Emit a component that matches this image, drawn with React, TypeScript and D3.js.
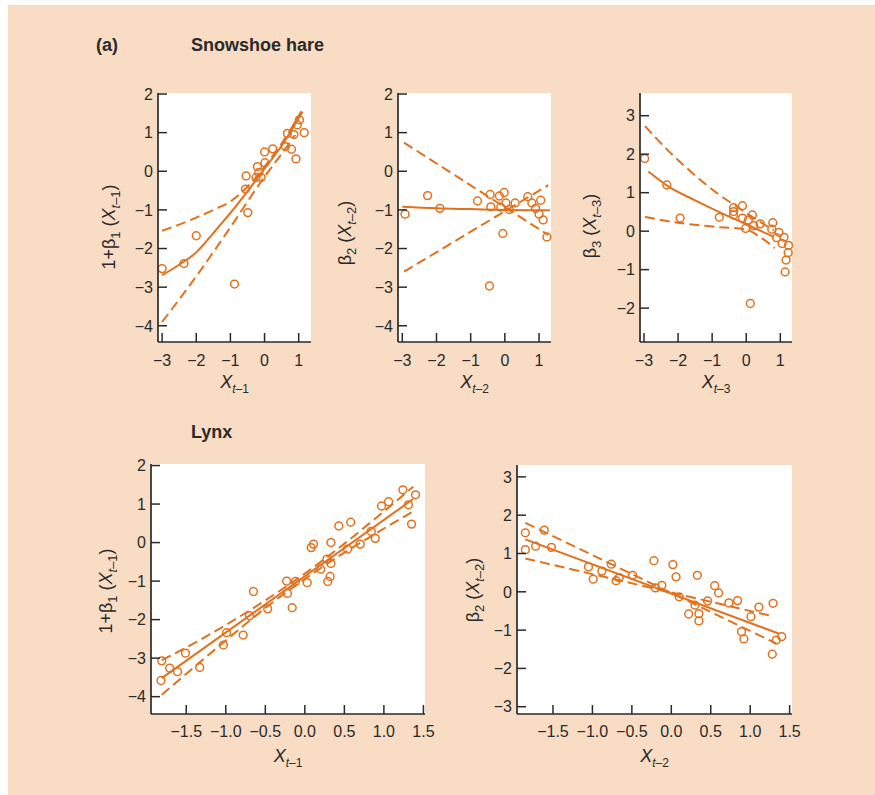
import React from 'react';
import * as d3 from 'd3';

type Pt = [number, number];

// ---------- DATA ----------
const hareTitle = 'Snowshoe hare';
const lynxTitle = 'Lynx';
const panelTag = '(a)';

const intTicks4 = [-3, -2, -1, 0, 1];
const yTicksA = [2, 1, 0, -1, -2, -3, -4];
const yTicksB = [3, 2, 1, 0, -1, -2];
const xTicksHalf = [-1.5, -1.0, -0.5, 0.0, 0.5, 1.0, 1.5];
const yTicksC = [3, 2, 1, 0, -1, -2, -3];

// Hare, 1+beta1 vs X(t-1)
const harePts1: Pt[] = [
  [-3.0, -2.52], [-2.36, -2.39], [-2.0, -1.67], [-0.88, -2.92], [-0.49, -1.07],
  [-0.56, -0.46], [-0.54, -0.12], [-0.21, 0.12], [-0.25, -0.16], [-0.17, -0.03],
  [-0.1, -0.16], [0.0, 0.5], [0.01, 0.22], [0.24, 0.58], [0.61, 0.64],
  [0.67, 0.98], [0.79, 0.57], [0.86, 0.95], [0.92, 0.32], [0.96, 1.2],
  [1.02, 1.33], [1.16, 1.0],
];
const hareFit1: Pt[] = [[-3, -2.69], [-2.5, -2.42], [-2, -2.1], [-1.5, -1.6], [-1, -1.08], [-0.5, -0.52], [0, 0.07], [0.5, 0.66], [1.11, 1.54]];
const hareUp1: Pt[] = [[-3, -1.54], [-2.5, -1.38], [-2, -1.2], [-1.5, -1.0], [-1, -0.78], [-0.5, -0.4], [0, 0.12], [0.5, 0.72], [1.11, 1.6]];
const hareLo1: Pt[] = [[-3, -3.9], [-2, -2.72], [-1, -1.45], [0, -0.14], [0.5, 0.45], [0.9, 0.95]];

// Hare, beta2 vs X(t-2)
const harePts2: Pt[] = [
  [-2.92, -1.11], [-2.26, -0.63], [-1.9, -0.96], [-0.8, -0.77], [-0.43, -0.6],
  [-0.41, -0.92], [-0.45, -2.97], [-0.16, -0.64], [-0.02, -0.55], [-0.12, -0.93],
  [0.03, -0.82], [-0.06, -1.61], [0.13, -0.99], [0.3, -0.82], [0.67, -0.66],
  [0.79, -0.82], [0.9, -0.96], [1.05, -0.75], [1.0, -1.11], [1.12, -1.26], [1.23, -1.7],
];
const hareFit2: Pt[] = [[-3, -0.92], [-2, -0.96], [-1, -0.98], [0, -1.0], [1.32, -1.01]];
const hareBandA2: Pt[] = [[-2.95, 0.74], [1.27, -1.65]];
const hareBandB2: Pt[] = [[-2.95, -2.6], [1.27, -0.36]];

// Hare, beta3 vs X(t-3)
const harePts3: Pt[] = [
  [-2.98, 1.89], [-2.33, 1.2], [-1.94, 0.34], [-0.79, 0.36], [-0.37, 0.61],
  [-0.37, 0.51], [-0.37, 0.42], [-0.11, 0.66], [-0.11, 0.34], [-0.02, 0.07],
  [0.06, 0.29], [0.18, 0.42], [0.22, 0.14], [0.41, 0.19], [0.12, -1.88],
  [0.78, 0.22], [0.75, 0.05], [0.89, -0.17], [0.96, -0.03], [1.05, -0.32],
  [1.11, -0.16], [1.24, -0.37], [1.23, -0.56], [1.17, -0.75], [1.14, -1.06],
];
const hareFit3: Pt[] = [[-2.87, 1.55], [-2.3, 1.17], [-1.5, 0.8], [-0.8, 0.5], [0, 0.18], [0.81, -0.15]];
const hareUp3: Pt[] = [[-2.97, 2.73], [-2.3, 2.1], [-1.5, 1.45], [-0.8, 0.95], [-0.28, 0.64], [0.3, 0.3], [0.81, 0.02]];
const hareLo3: Pt[] = [[-2.97, 0.37], [-2, 0.22], [-1, 0.12], [0, 0.04], [0.4, -0.15], [0.84, -0.44]];

// Lynx, 1+beta1 vs X(t-1)
const lynxPts1: Pt[] = [
  [-1.81, -3.07], [-1.82, -3.58], [-1.71, -3.26], [-1.61, -3.35], [-1.51, -2.87],
  [-1.33, -3.24], [-1.03, -2.66], [-0.99, -2.34], [-0.78, -2.4], [-0.7, -1.9],
  [-0.65, -1.27], [-0.47, -1.72], [-0.23, -1.0], [-0.22, -1.32], [-0.16, -1.69],
  [-0.12, -1.01], [0.03, -1.04], [0.08, -0.13], [0.11, -0.04], [0.2, -0.69],
  [0.28, -0.43], [0.29, -1.01], [0.32, -0.88], [0.33, -0.54], [0.33, 0.0],
  [0.43, 0.43], [0.54, -0.17], [0.58, 0.53], [0.7, -0.04], [0.84, 0.29],
  [0.89, 0.11], [0.97, 0.95], [1.06, 1.06], [1.24, 1.37], [1.31, 0.98],
  [1.35, 0.48], [1.4, 1.24],
];
const lynxFit1: Pt[] = [[-1.81, -3.52], [1.37, 1.13]];
const lynxUp1: Pt[] = [[-1.81, -3.05], [-1.37, -2.58], [-1, -2.14], [-0.5, -1.5], [-0.1, -0.95], [0.4, -0.19], [0.9, 0.64], [1.37, 1.45]];
const lynxLo1: Pt[] = [[-1.81, -3.95], [-1.37, -3.18], [-1, -2.54], [-0.5, -1.7], [-0.1, -1.09], [0.4, -0.39], [0.9, 0.24], [1.37, 0.81]];

// Lynx, beta2 vs X(t-2)
const lynxPts2: Pt[] = [
  [-1.85, 1.54], [-1.85, 1.1], [-1.72, 1.19], [-1.61, 1.61], [-1.52, 1.16],
  [-1.05, 0.65], [-0.99, 0.33], [-0.88, 0.54], [-0.76, 0.72], [-0.7, 0.29],
  [-0.66, 0.37], [-0.49, 0.43], [-0.22, 0.81], [-0.2, 0.1], [-0.12, 0.17],
  [0.02, 0.71], [0.06, 0.39], [0.1, -0.13], [0.22, -0.58], [0.3, -0.35],
  [0.33, 0.43], [0.35, -0.57], [0.35, -0.76], [0.46, -0.24], [0.55, 0.16],
  [0.6, -0.03], [0.73, -0.29], [0.84, -0.23], [0.89, -1.04], [0.92, -1.23],
  [1.01, -0.65], [1.11, -0.4], [1.29, -0.3], [1.28, -1.63], [1.33, -1.26], [1.4, -1.17],
];
const lynxFit2: Pt[] = [[-1.85, 1.37], [1.36, -1.09]];
const lynxBandA2: Pt[] = [[-1.85, 1.8], [1.33, -1.35]];
const lynxBandB2: Pt[] = [[-1.85, 0.87], [1.25, -0.62]];

// ---------- STYLE / LAYOUT ----------
const ORANGE = '#E2711D';
const INK = '#2a2a2a';
const BG = '#F8DCC4';
const FONT = '"Liberation Sans", Arial, Helvetica, sans-serif';

type Part = { t: string; sub?: boolean; it?: boolean };
const labelB1: Part[] = [{ t: '1+β' }, { t: '1', sub: true }, { t: ' (' }, { t: 'X', it: true }, { t: 't', sub: true, it: true }, { t: '–1', sub: true }, { t: ')' }];
const labelB2: Part[] = [{ t: 'β' }, { t: '2', sub: true }, { t: ' (' }, { t: 'X', it: true }, { t: 't', sub: true, it: true }, { t: '–2', sub: true }, { t: ')' }];
const labelB3: Part[] = [{ t: 'β' }, { t: '3', sub: true }, { t: ' (' }, { t: 'X', it: true }, { t: 't', sub: true, it: true }, { t: '–3', sub: true }, { t: ')' }];
const xl = (n: string): Part[] => [{ t: 'X', it: true }, { t: 't', sub: true, it: true }, { t: '–' + n, sub: true }];

interface Spec {
  left: number; right: number; top: number; bottom: number;
  xDomain: [number, number]; yDomain: [number, number];
  xTicks: number[]; yTicks: number[]; dec: number;
  pts: Pt[]; fit: Pt[]; dashes: Pt[][];
  xLabel: Part[]; yLabel: Part[]; yLabelX: number; yLabelY: number;
  xTickDy: number; xLabelDy: number;
}

const specs: Spec[] = [
  { left: 158, right: 311, top: 93, bottom: 342, xDomain: [-3.12, 1.36], yDomain: [2.026, -4.42],
    xTicks: intTicks4, yTicks: yTicksA, dec: 0, pts: harePts1, fit: hareFit1, dashes: [hareUp1, hareLo1],
    xLabel: xl('1'), yLabel: labelB1, yLabelX: 115, yLabelY: 227, xTickDy: 24, xLabelDy: 46 },
  { left: 398, right: 551, top: 93, bottom: 342, xDomain: [-3.126, 1.35], yDomain: [2.026, -4.42],
    xTicks: intTicks4, yTicks: yTicksA, dec: 0, pts: harePts2, fit: hareFit2, dashes: [hareBandA2, hareBandB2],
    xLabel: xl('2'), yLabel: labelB2, yLabelX: 351, yLabelY: 233, xTickDy: 24, xLabelDy: 46 },
  { left: 640, right: 792, top: 93, bottom: 342, xDomain: [-3.117, 1.343], yDomain: [3.59, -2.88],
    xTicks: intTicks4, yTicks: yTicksB, dec: 0, pts: harePts3, fit: hareFit3, dashes: [hareUp3, hareLo3],
    xLabel: xl('3'), yLabel: labelB3, yLabelX: 596, yLabelY: 226, xTickDy: 24, xLabelDy: 46 },
  { left: 151, right: 425, top: 464, bottom: 714, xDomain: [-1.946, 1.52], yDomain: [2.04, -4.45],
    xTicks: xTicksHalf, yTicks: yTicksA, dec: 1, pts: lynxPts1, fit: lynxFit1, dashes: [lynxUp1, lynxLo1],
    xLabel: xl('1'), yLabel: labelB1, yLabelX: 112, yLabelY: 591, xTickDy: 23, xLabelDy: 48 },
  { left: 517, right: 792, top: 465, bottom: 714, xDomain: [-1.956, 1.53], yDomain: [3.31, -3.19],
    xTicks: xTicksHalf, yTicks: yTicksC, dec: 1, pts: lynxPts2, fit: lynxFit2, dashes: [lynxBandA2, lynxBandB2],
    xLabel: xl('2'), yLabel: labelB2, yLabelX: 479, yLabelY: 590, xTickDy: 23, xLabelDy: 48 },
];

function RichText({ parts, size, subSize, ...rest }: any) {
  let level = 0;
  return (
    <text fontFamily={FONT} fill={INK} fontSize={size} {...rest}>
      {parts.map((p: Part, i: number) => {
        const target = p.sub ? 1 : 0;
        const dy = target !== level ? (target ? 5 : -5) : 0;
        level = target;
        return (
          <tspan key={i} dy={dy} fontStyle={p.it ? 'italic' : 'normal'} fontSize={p.sub ? subSize : size}>
            {p.t}
          </tspan>
        );
      })}
    </text>
  );
}

const fmt = (v: number, dec: number) => (dec ? d3.format('.1f')(v) : String(v)).replace('-', '−');

function Panel({ s }: { s: Spec }) {
  const x = d3.scaleLinear().domain(s.xDomain).range([s.left, s.right]);
  const y = d3.scaleLinear().domain(s.yDomain).range([s.top, s.bottom]);
  const smooth = d3.line<Pt>().x((d) => x(d[0])).y((d) => y(d[1])).curve(d3.curveMonotoneX);
  const tick = 9;
  return (
    <g>
      <rect x={s.left} y={s.top} width={s.right - s.left} height={s.bottom - s.top} fill="#fff" />
      {s.dashes.map((d, i) => (
        <path key={'d' + i} d={smooth(d) || ''} fill="none" stroke={ORANGE} strokeWidth={2} strokeDasharray="10,5" />
      ))}
      <path d={smooth(s.fit) || ''} fill="none" stroke={ORANGE} strokeWidth={2} />
      {s.pts.map((p, i) => (
        <circle key={i} cx={x(p[0])} cy={y(p[1])} r={3.9} fill="none" stroke={ORANGE} strokeWidth={1.5} />
      ))}
      <line x1={s.left} x2={s.left} y1={s.top} y2={s.bottom} stroke={INK} strokeWidth={1.7} />
      <line x1={s.left} x2={s.right} y1={s.bottom} y2={s.bottom} stroke={INK} strokeWidth={1.7} />
      {s.yTicks.map((t) => (
        <g key={'y' + t}>
          <line x1={s.left} x2={s.left + tick} y1={y(t)} y2={y(t)} stroke={INK} strokeWidth={1.5} />
          <text x={s.left - 5} y={y(t)} dy="0.36em" textAnchor="end" fontFamily={FONT} fontSize={16} fill={INK}>
            {fmt(t, 0)}
          </text>
        </g>
      ))}
      {s.xTicks.map((t) => (
        <g key={'x' + t}>
          <line x1={x(t)} x2={x(t)} y1={s.bottom} y2={s.bottom - tick} stroke={INK} strokeWidth={1.5} />
          <text x={x(t)} y={s.bottom + s.xTickDy} textAnchor="middle" fontFamily={FONT} fontSize={16} fill={INK}>
            {fmt(t, s.dec)}
          </text>
        </g>
      ))}
      <RichText parts={s.xLabel} size={18} subSize={12} x={(s.left + s.right) / 2} y={s.bottom + s.xLabelDy} textAnchor="middle" />
      <RichText parts={s.yLabel} size={18} subSize={13} transform={`translate(${s.yLabelX},${s.yLabelY}) rotate(-90)`} textAnchor="middle" />
    </g>
  );
}

export default function App() {
  return (
    <svg width={875} height={795} style={{ position: 'absolute', left: 0, top: 0 }}>
      <rect x={8} y={5} width={867} height={790} fill={BG} />
      <text x={96} y={51} fontFamily={FONT} fontWeight="bold" fontSize={18} fill={INK}>{panelTag}</text>
      <text x={191} y={51} fontFamily={FONT} fontWeight="bold" fontSize={18} fill={INK}>{hareTitle}</text>
      <text x={191} y={438} fontFamily={FONT} fontWeight="bold" fontSize={18} fill={INK}>{lynxTitle}</text>
      {specs.map((s, i) => (
        <Panel key={i} s={s} />
      ))}
    </svg>
  );
}
